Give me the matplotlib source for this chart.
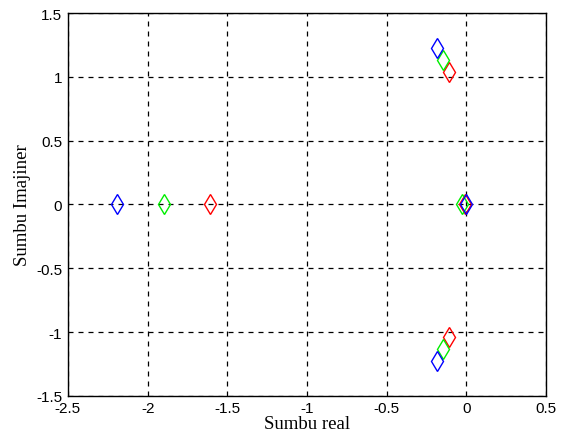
import matplotlib
matplotlib.use("Agg")
import matplotlib.pyplot as plt

# poles for three cases (real, imag)
blue_re = [-2.19, -0.185, -0.185, 0.0]
blue_im = [0.0, 1.23, -1.23, 0.0]
green_re = [-1.90, -0.145, -0.145, -0.025]
green_im = [0.0, 1.135, -1.135, 0.0]
red_re = [-1.61, -0.108, -0.108, -0.01]
red_im = [0.0, 1.04, -1.04, 0.0]

fig = plt.figure(figsize=(5.66, 4.39), dpi=100)
ax = fig.add_axes([0.120, 0.096, 0.845, 0.872])

for re, im, c in [(red_re, red_im, "red"), (green_re, green_im, "#00ee00"), (blue_re, blue_im, "blue")]:
    ax.plot(re, im, linestyle="none", marker="d", markersize=10,
            markerfacecolor="none", markeredgecolor=c, markeredgewidth=1.0)

ax.set_xlim(-2.5, 0.5)
ax.set_ylim(-1.5, 1.5)
ax.set_xticks([-2.5, -2, -1.5, -1, -0.5, 0, 0.5])
ax.set_yticks([-1.5, -1, -0.5, 0, 0.5, 1, 1.5])
ax.set_xticklabels(["-2.5", "-2", "-1.5", "-1", "-0.5", "0", "0.5"])
ax.set_yticklabels(["-1.5", "-1", "-0.5", "0", "0.5", "1", "1.5"])
ax.grid(True, color="black", linestyle=(0, (4, 4)), linewidth=0.9)
ax.tick_params(direction="in", length=0, labelsize=11, pad=4)
for lbl in ax.get_xticklabels() + ax.get_yticklabels():
    lbl.set_family("Liberation Sans")
for s in ax.spines.values():
    s.set_linewidth(1.0)

ax.set_xlabel("Sumbu real", family="Liberation Serif", fontsize=13.5, labelpad=0)
ax.set_ylabel("Sumbu Imajiner", family="Liberation Serif", fontsize=13.5, labelpad=4)

fig.savefig("out.png", dpi=100)
